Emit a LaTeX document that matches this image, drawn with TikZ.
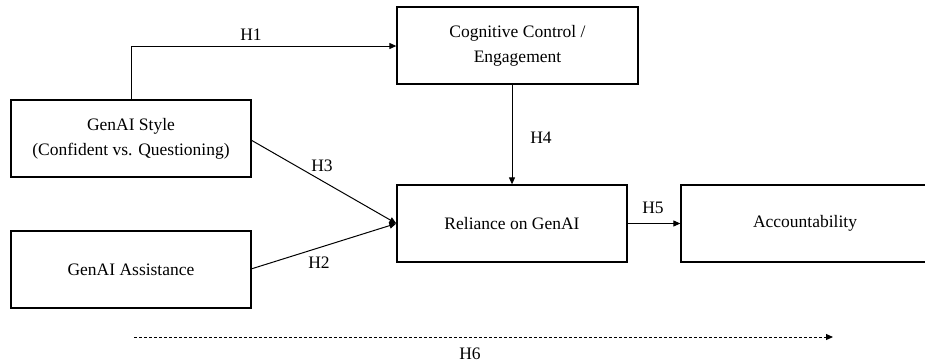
\documentclass[tikz,border=0pt]{standalone}
\usepackage{fontspec}
\setmainfont{Liberation Serif}
\usetikzlibrary{arrows.meta}
\begin{document}
\begin{tikzpicture}[x=1pt,y=-1pt,
  box/.style={draw, line width=1.3pt, minimum height=77pt, inner sep=0pt,
    align=center, font=\fontsize{17.5}{25}\selectfont},
  arr/.style={line width=1pt, -{Triangle[length=7pt,width=6pt]}},
  lbl/.style={font=\fontsize{17.5}{21}\selectfont, inner sep=0pt}]
\useasboundingbox (0,0) rectangle (925,362);
% construct boxes
\node[box, minimum width=241pt] (cog) at (517.5,45.5) {Cognitive Control /\\Engagement};
\node[box, minimum width=240pt] (sty) at (131,138.5) {GenAI Style\\(Confident vs. Questioning)};
\node[box, minimum width=240pt] (ass) at (131,269.5) {GenAI Assistance};
\node[box, minimum width=230pt] (rel) at (512,223.5) {Reliance on GenAI};
\node[box, minimum width=248pt] (acc) at (805,223.5) {Accountability};
% hypothesised paths
\coordinate (h1bend) at (131,46);
\draw[arr] (sty.north) -- (h1bend) -- (cog.west |- h1bend);
\node[lbl] (h1) at (251,35) {H1};
\coordinate (h3start) at (251,140);
\draw[arr] (h3start) -- (rel.west);
\node[lbl] (h3) at (322,166) {H3};
\coordinate (h2start) at (251,269);
\draw[arr] (h2start) -- (rel.west);
\node[lbl] (h2) at (319,263) {H2};
\draw[arr] (rel.north |- cog.south) -- (rel.north);
\node[lbl] (h4) at (541,138) {H4};
\draw[arr] (rel.east) -- (acc.west);
\node[lbl] (h5) at (653,208) {H5};
% overall mediated effect
\coordinate (h6a) at (134,337);
\coordinate (h6b) at (833,337);
\draw[arr, dash pattern=on 3pt off 2pt] (h6a) -- (h6b);
\node[lbl] (h6) at (470,354) {H6};
\end{tikzpicture}
\end{document}
